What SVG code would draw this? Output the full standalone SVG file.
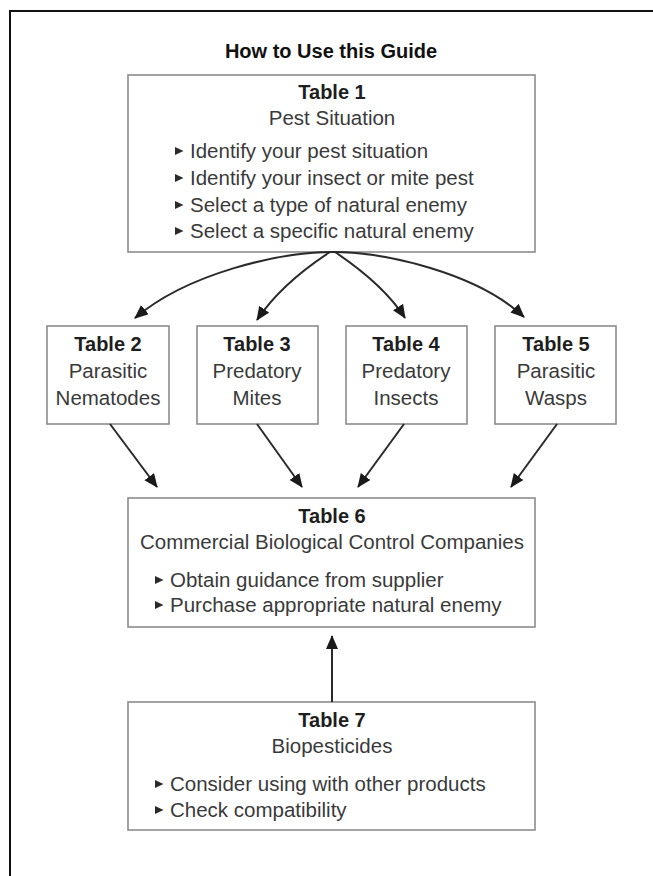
<svg xmlns="http://www.w3.org/2000/svg" xmlns:xlink="http://www.w3.org/1999/xlink" width="653" height="876" viewBox="0 0 653 876">
<style>
text { font-family: "Liberation Sans", Arial, sans-serif; }
.title { font-size: 20px; font-weight: bold; fill: #111; text-anchor: middle; }
.hd { font-size: 20px; font-weight: bold; fill: #1e1e1e; text-anchor: middle; }
.sub { font-size: 20.5px; fill: #3a3a3a; text-anchor: middle; }
.bl { font-size: 20.5px; fill: #3a3a3a; }
.box { fill: #fff; stroke: #8c8c8c; stroke-width: 1.6; }
.conn path { fill: none; stroke: #2a2a2a; stroke-width: 2; marker-end: url(#ah); }
.bullet { fill: #2a2a2a; }
</style>
<defs>
<marker id="ah" markerUnits="userSpaceOnUse" markerWidth="16" markerHeight="14" refX="13" refY="6" orient="auto">
<path d="M0,0 L14,6 L0,12 z" fill="#1a1a1a"/>
</marker>
<polygon id="bul" class="bullet" points="0,-4 8.5,0 0,4"/>
</defs>
<rect width="653" height="876" fill="#fff"/>
<path d="M10,876 V11 H653" fill="none" stroke="#111" stroke-width="2"/>
<text class="title" x="331" y="58">How to Use this Guide</text>

<g id="table1">
<rect class="box" x="128" y="75" width="407" height="177"/>
<text class="hd" x="332" y="99">Table 1</text>
<text class="sub" x="332" y="125">Pest Situation</text>
<use xlink:href="#bul" x="175" y="151"/>
<text class="bl" x="190" y="158">Identify your pest situation</text>
<use xlink:href="#bul" x="175" y="178"/>
<text class="bl" x="190" y="185">Identify your insect or mite pest</text>
<use xlink:href="#bul" x="175" y="205"/>
<text class="bl" x="190" y="212">Select a type of natural enemy</text>
<use xlink:href="#bul" x="175" y="231"/>
<text class="bl" x="190" y="238">Select a specific natural enemy</text>
</g>

<g id="table2">
<rect class="box" x="47" y="326" width="122" height="98"/>
<text class="hd" x="108" y="351">Table 2</text>
<text class="sub" x="108" y="378">Parasitic</text>
<text class="sub" x="108" y="405">Nematodes</text>
</g>
<g id="table3">
<rect class="box" x="197" y="326" width="121" height="98"/>
<text class="hd" x="257" y="351">Table 3</text>
<text class="sub" x="257" y="378">Predatory</text>
<text class="sub" x="257" y="405">Mites</text>
</g>
<g id="table4">
<rect class="box" x="346" y="326" width="121" height="98"/>
<text class="hd" x="406" y="351">Table 4</text>
<text class="sub" x="406" y="378">Predatory</text>
<text class="sub" x="406" y="405">Insects</text>
</g>
<g id="table5">
<rect class="box" x="495" y="326" width="121" height="98"/>
<text class="hd" x="556" y="351">Table 5</text>
<text class="sub" x="556" y="378">Parasitic</text>
<text class="sub" x="556" y="405">Wasps</text>
</g>

<g id="table6">
<rect class="box" x="128" y="498" width="407" height="129"/>
<text class="hd" x="332" y="523">Table 6</text>
<text class="sub" x="332" y="549">Commercial Biological Control Companies</text>
<use xlink:href="#bul" x="155" y="580"/>
<text class="bl" x="170" y="587">Obtain guidance from supplier</text>
<use xlink:href="#bul" x="155" y="605"/>
<text class="bl" x="170" y="612">Purchase appropriate natural enemy</text>
</g>

<g id="table7">
<rect class="box" x="128" y="702" width="407" height="128"/>
<text class="hd" x="332" y="727">Table 7</text>
<text class="sub" x="332" y="753">Biopesticides</text>
<use xlink:href="#bul" x="155" y="784"/>
<text class="bl" x="170" y="791">Consider using with other products</text>
<use xlink:href="#bul" x="155" y="810"/>
<text class="bl" x="170" y="817">Check compatibility</text>
</g>

<g id="connectors" class="conn">
<path d="M333,252 C280,252 188,273 135,318"/>
<path d="M330,252 Q281,284 257,320"/>
<path d="M335,252 Q384,285 405,318"/>
<path d="M333,252 C385,252 477,273 524,317"/>
<path d="M110,424 L157,487"/>
<path d="M257,424 L302,487"/>
<path d="M404,424 L358,487"/>
<path d="M557,424 L511,487"/>
<path d="M332,702 L332,636"/>
</g>
</svg>
